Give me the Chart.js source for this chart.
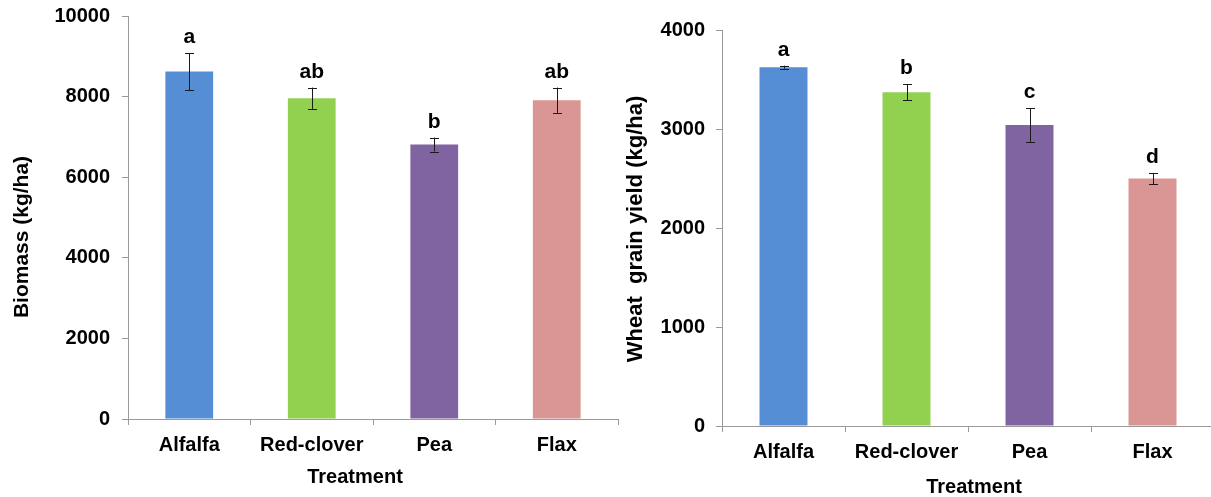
<!DOCTYPE html>
<html>
<head>
<meta charset="utf-8">
<script src="https://cdn.jsdelivr.net/npm/chart.js@4/dist/chart.umd.min.js"></script>
<style>
  html, body { margin: 0; padding: 0; background: #fff; overflow: hidden; width: 1211px; height: 497px; }
  #c1 { position: absolute; left: 0; top: 0; }
  #c2 { position: absolute; left: 600px; top: 0; }
</style>
</head>
<body>
<canvas id="c1" width="620" height="497"></canvas>
<canvas id="c2" width="620" height="497"></canvas>
<script>
// ---- Data ----
const categories = ['Alfalfa', 'Red-clover', 'Pea', 'Flax'];
const barColors = ['#558ED5', '#92D050', '#8064A2', '#D99694'];

const biomassMean = [8620, 7960, 6810, 7910];
const biomassErr  = [460, 265, 175, 315];
const biomassLetters = ['a', 'ab', 'b', 'ab'];
const biomassTicks = [0, 2000, 4000, 6000, 8000, 10000];

const yieldMean = [3625, 3370, 3040, 2500];
const yieldErr  = [15, 80, 170, 55];
const yieldLetters = ['a', 'b', 'c', 'd'];
const yieldTicks = [0, 1000, 2000, 3000, 4000];

const xTitle = 'Treatment';
const FONT = "'Liberation Sans', Arial, sans-serif";

const errorBarPlugin = {
  id: 'errorBars',
  afterDatasetsDraw(chart, args, opts) {
    const ctx = chart.ctx;
    const xs = chart.scales.x, ys = chart.scales.y;
    ctx.save();
    ctx.strokeStyle = '#1a1a1a';
    ctx.lineWidth = 1;
    opts.means.forEach((m, i) => {
      const x = Math.round(xs.getPixelForValue(i)) + 0.5;
      const yt = ys.getPixelForValue(m + opts.errs[i]);
      const yb = ys.getPixelForValue(m - opts.errs[i]);
      ctx.beginPath();
      ctx.moveTo(x, yt); ctx.lineTo(x, yb);
      ctx.moveTo(x - 4.5, Math.round(yt) + 0.5); ctx.lineTo(x + 4.5, Math.round(yt) + 0.5);
      ctx.moveTo(x - 4.5, Math.round(yb) + 0.5); ctx.lineTo(x + 4.5, Math.round(yb) + 0.5);
      ctx.stroke();
      // significance letters
      ctx.fillStyle = '#000';
      ctx.font = 'bold 21px ' + FONT;
      ctx.textAlign = 'center';
      ctx.textBaseline = 'alphabetic';
      ctx.fillText(opts.letters[i], xs.getPixelForValue(i), yt - 10);
    });
    ctx.fillStyle = '#000';
    ctx.textAlign = 'center';
    ctx.textBaseline = 'middle';
    // x axis title
    ctx.font = 'bold 20px ' + FONT;
    ctx.fillText(opts.xTitle, opts.xTitleX, opts.xTitleY);
    // y axis title
    ctx.save();
    ctx.translate(opts.titleX, opts.titleY);
    ctx.rotate(-Math.PI / 2);
    ctx.font = 'bold ' + opts.titleSize + 'px ' + FONT;
    ctx.fillText(opts.title, 0, 0);
    ctx.restore();
    ctx.restore();
  }
};

function makeChart(id, means, errs, letters, ticks, yTitle, cfg) {
  return new Chart(document.getElementById(id), {
    type: 'bar',
    data: {
      labels: categories,
      datasets: [{
        data: means,
        backgroundColor: barColors,
        borderWidth: 0,
        categoryPercentage: 1.0,
        barPercentage: 0.39
      }]
    },
    options: {
      responsive: false,
      animation: false,
      events: [],
      layout: { padding: { left: 0, top: cfg.top, right: cfg.right, bottom: 0 } },
      plugins: {
        legend: { display: false },
        tooltip: { enabled: false },
        errorBars: {
          means: means, errs: errs, letters: letters,
          title: yTitle, titleX: cfg.titleX, titleY: cfg.titleY, titleSize: cfg.titleSize,
          xTitle: xTitle, xTitleX: cfg.xTitleX, xTitleY: cfg.xTitleY
        }
      },
      scales: {
        x: {
          grid: { offset: true, drawOnChartArea: false, drawTicks: true, tickLength: 6, color: '#9a9a9a' },
          border: { display: true, color: '#9a9a9a', width: 1 },
          ticks: { color: '#000', padding: 8, autoSkip: false, maxRotation: 0, font: { family: FONT, size: 20, weight: 'bold', lineHeight: 1.2 } },
          title: { display: false, text: xTitle },
          afterFit(scale) { scale.height = cfg.xHeight; scale.paddingLeft = 0; scale.paddingRight = 0; }
        },
        y: {
          min: ticks[0],
          max: ticks[ticks.length - 1],
          afterBuildTicks(scale) { scale.ticks = ticks.map(v => ({ value: v })); },
          grid: { drawOnChartArea: false, drawTicks: true, tickLength: 6, color: '#9a9a9a' },
          border: { display: true, color: '#9a9a9a', width: 1 },
          ticks: { color: '#000', padding: cfg.yTickPad, font: { family: FONT, size: 20, weight: 'bold' }, callback: v => String(v) },
          afterFit(scale) { scale.width = cfg.yWidth; scale.paddingTop = 0; scale.paddingBottom = 0; }
        }
      }
    },
    plugins: [errorBarPlugin]
  });
}

makeChart('c1', biomassMean, biomassErr, biomassLetters, biomassTicks, 'Biomass (kg/ha)',
  { top: 16, right: 2, xHeight: 78, yWidth: 128, yTickPad: 12, titleX: 22, titleY: 237, titleSize: 21, xTitleX: 355, xTitleY: 477 });
makeChart('c2', yieldMean, yieldErr, yieldLetters, yieldTicks, 'Wheat  grain yield (kg/ha)',
  { top: 30, right: 6, xHeight: 71, yWidth: 122, yTickPad: 11, titleX: 36, titleY: 229, titleSize: 22, xTitleX: 374, xTitleY: 487 });
</script>
</body>
</html>
